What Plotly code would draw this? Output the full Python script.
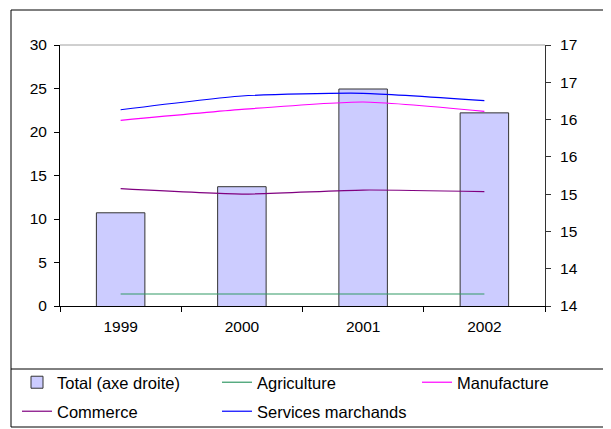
import plotly.graph_objects as go

OFF = 8  # page body margin
W, H = 611, 429

years = ["1999", "2000", "2001", "2002"]
total = [15.25, 15.60, 16.91, 16.59]          # right axis
agriculture = [1.38, 1.38, 1.38, 1.38]
manufacture = [21.34, 22.6, 23.45, 22.38]
commerce = [13.48, 12.87, 13.33, 13.14]
services = [22.56, 24.14, 24.45, 23.6]

right_ticks = [14, 14.5, 15, 15.5, 16, 16.5, 17, 17.5]
right_labels = [str(int(v)) for v in right_ticks]


def px(p):
    return (p - OFF) / W


def py(p):
    return 1 - (p - OFF) / H


TICK_FONT = dict(family="Liberation Sans, Arial, sans-serif", size=15.5, color="black")
LEG_FONT = dict(family="Liberation Sans, Arial, sans-serif", size=16.5, color="black")

fig = go.Figure()

# bars on the primary y (drawn underneath), shown on the right side
fig.add_trace(go.Bar(
    x=years, y=total, name="Total (axe droite)", yaxis="y", legend="legend",
    marker=dict(color="#CCCCFF", line=dict(color="#333333", width=1)),
))

lines = [
    ("Agriculture", agriculture, "#339966", "legend"),
    ("Manufacture", manufacture, "#FF00FF", "legend"),
    ("Commerce", commerce, "#800080", "legend2"),
    ("Services marchands", services, "#0000FF", "legend2"),
]
for name, vals, color, leg in lines:
    fig.add_trace(go.Scatter(
        x=years, y=vals, name=name, yaxis="y2", mode="lines", legend=leg,
        line=dict(color=color, width=1.2, shape="spline", smoothing=0.6),
    ))

leg_common = dict(
    orientation="h", xanchor="left", yanchor="top",
    entrywidth=155, entrywidthmode="pixels", traceorder="normal",
    font=LEG_FONT, itemwidth=30, bgcolor="rgba(0,0,0,0)",
)

fig.update_layout(
    width=W, height=H,
    margin=dict(l=0, r=0, t=0, b=0, autoexpand=False),
    paper_bgcolor="white", plot_bgcolor="white",
    font=TICK_FONT,
    bargap=0.6,
    xaxis=dict(
        domain=[px(60), px(545)], type="category", showline=True, linecolor="black",
        linewidth=1, ticks="outside", ticklen=5, tickcolor="black",
        tickson="boundaries", showgrid=False, ticklabelstandoff=6,
    ),
    yaxis=dict(
        domain=[py(306), py(45)], side="right", range=[14, 17.5],
        tickvals=right_ticks, ticktext=right_labels,
        showline=True, linecolor="#333333", linewidth=1,
        ticks="outside", ticklen=5, tickcolor="#333333",
        showgrid=False, zeroline=False, ticklabelstandoff=6,
    ),
    yaxis2=dict(
        overlaying="y", side="left", range=[0, 30], dtick=5,
        showline=True, linecolor="black", linewidth=1,
        ticks="outside", ticklen=5, tickcolor="black",
        showgrid=False, zeroline=False, ticklabelstandoff=4,
    ),
    legend=dict(x=px(17), y=py(365), **leg_common),
    legend2=dict(x=px(17), y=py(394), **leg_common),
    shapes=[
        # chart border
        dict(type="rect", xref="paper", yref="paper",
             x0=px(11), x1=1.05, y0=py(427), y1=py(10),
             line=dict(color="black", width=1)),
        # legend box top line
        dict(type="line", xref="paper", yref="paper",
             x0=px(11), x1=1.05, y0=py(369), y1=py(369),
             line=dict(color="black", width=1)),
        # grey top border of plot area
        dict(type="line", xref="x domain", yref="y domain",
             x0=0, x1=1, y0=1, y1=1, line=dict(color="#A0A0A0", width=1)),
    ],
)

fig.write_html("out.html")
